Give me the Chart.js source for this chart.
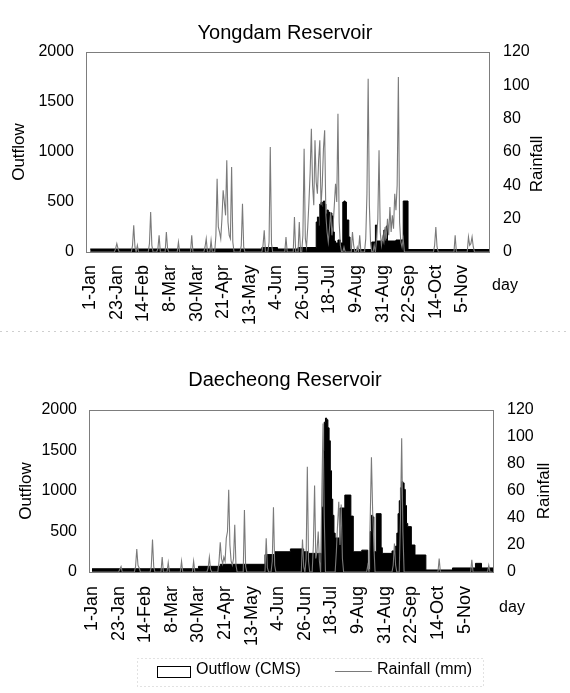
<!DOCTYPE html>
<html>
<head>
<meta charset="utf-8">
<title>Yongdam / Daecheong Reservoir - outflow and rainfall</title>
<script src="https://cdn.jsdelivr.net/npm/chart.js@4.4.1/dist/chart.umd.min.js"></script>
<style>
  html, body { margin: 0; padding: 0; background: #fff; }
  #wrap { position: relative; width: 570px; height: 693px; overflow: hidden; }
  #wrap canvas { position: absolute; left: 0; }
  #chartTop { top: 0; }
  #chartBottom { top: 340px; }
</style>
</head>
<body>
<div id="wrap">
  <canvas id="chartTop" width="570" height="340"></canvas>
  <canvas id="chartBottom" width="570" height="353"></canvas>
</div>
<script>
const FONT = "'Liberation Sans', Arial, Helvetica, sans-serif";

// x axis: a label every 22 days, day 0 = 1 Jan
const labelDays = [0, 22, 44, 66, 88, 110, 132, 154, 176, 198, 220, 242, 264, 286, 308];
const dayLabels = ['1-Jan', '23-Jan', '14-Feb', '8-Mar', '30-Mar', '21-Apr', '13-May', '4-Jun',
                   '26-Jun', '18-Jul', '9-Aug', '31-Aug', '22-Sep', '14-Oct', '5-Nov'];

// Yongdam - daily rainfall (mm), one row = 22 days
const yongRain = [
  0,0,0,0,0,0,0,0,0,0,0,0,0,0,0,0,0,0,0,0,0,2,
  5,2,0,0,0,0,0,0,0,0,0,0,0,4,16,3,0,4,0,0,0,0,
  0,0,0,0,0,5,24,4,0,0,0,0,2,10,0,0,0,0,0,12,2,0,
  0,0,0,0,0,0,0,6,0,0,0,0,0,0,0,0,0,0,10,0,0,0,
  0,0,0,0,0,0,0,3,8,0,0,0,7,0,0,0,10,44,15,12,8,20,
  37,30,22,55,18,10,8,51,6,0,0,0,0,0,0,4,29,3,0,0,0,0,
  0,0,0,0,0,0,0,0,0,0,0,4,13,0,0,0,6,63,5,0,0,0,
  0,0,0,0,0,0,0,0,9,0,0,0,0,0,0,21,0,0,0,18,0,0,
  10,62,8,3,15,30,48,74,40,28,67,42,35,55,67,28,40,62,73,22,12,6,
  14,24,10,16,28,41,30,83,18,4,0,0,3,0,0,0,0,0,0,12,4,0,
  0,3,0,10,0,0,0,0,8,35,104,28,5,0,0,4,0,8,20,61,12,4,
  9,6,15,8,20,10,27,12,22,14,35,25,40,105,18,6,3,8,0,0,0,0,
  0,0,0,0,0,0,0,0,0,0,0,0,0,0,0,0,0,0,0,0,0,4,
  15,3,0,0,0,0,0,0,0,0,0,0,0,0,0,0,10,0,0,0,0,0,
  0,0,0,0,0,9,4,5,9,3,0,0,0,0,0,0,0,0,0,0,0,0,
  0,0
];
// Yongdam - outflow (CMS): value holds from that day until the next change
const yongOutDay = [0, 142, 155, 172, 187, 188, 189, 190, 191, 192, 193, 194, 195, 196, 197, 198, 199, 200,
                    201, 202, 203, 205, 207, 209, 210, 211, 212, 214, 215, 233, 236, 237, 243, 244, 245, 246,
                    253, 259, 263, 330];
const yongOutCms = [30, 45, 30, 45, 300, 350, 260, 480, 500, 450, 510, 480, 380, 420, 400, 300, 390, 360,
                    200, 110, 90, 120, 90, 500, 510, 500, 320, 150, 25, 100, 270, 110, 220, 110, 260, 110,
                    120, 510, 25, 25];

// Daecheong - daily rainfall (mm), one row = 22 days
const daeRain = [
  0,0,0,0,0,0,0,0,0,0,0,0,0,0,0,0,0,0,0,0,0,0,
  0,2,4,0,0,0,0,0,0,0,0,0,0,0,4,17,5,3,0,0,0,0,
  0,0,0,0,0,4,24,4,0,0,0,0,0,0,11,0,0,0,0,7,0,0,
  0,0,0,0,0,0,0,0,8,0,0,0,0,0,0,0,0,0,8,0,0,0,
  0,0,0,0,0,0,0,0,3,11,2,0,0,0,0,0,0,8,22,10,6,11,
  8,25,30,61,20,8,5,10,35,5,0,0,0,0,0,0,46,4,0,0,0,0,
  0,0,0,0,0,0,0,0,0,0,0,0,25,3,0,0,0,8,48,5,0,0,
  0,0,0,0,0,0,0,0,0,0,0,0,0,0,0,0,0,0,0,0,24,4,
  0,10,78,8,0,0,0,20,64,10,15,30,8,0,60,110,40,0,0,0,0,0,
  0,0,0,0,15,35,52,20,50,10,0,0,0,0,0,0,0,0,0,0,0,0,
  0,0,0,0,0,0,0,0,5,0,40,85,45,20,0,0,0,0,0,0,0,0,
  0,0,0,0,0,0,0,5,21,5,0,0,0,40,99,30,0,0,0,0,0,0,
  0,0,0,0,0,0,0,0,0,0,0,0,0,0,0,0,0,0,0,0,0,0,
  0,10,0,0,0,0,0,0,0,0,0,0,0,0,0,0,0,0,0,0,0,0,
  0,0,0,0,0,0,9,0,0,0,0,0,0,0,0,0,0,0,0,0,5,0,
  0,0
];
// Daecheong - outflow (CMS): value holds from that day until the next change
const daeOutDay = [0, 88, 106, 143, 151, 164, 175, 179, 190, 191, 192, 193, 194, 195, 196, 197, 198, 199,
                   200, 201, 205, 209, 214, 216, 223, 228, 230, 231, 232, 233, 235, 239, 240, 248, 251, 252,
                   253, 254, 255, 256, 257, 258, 259, 260, 261, 264, 267, 276, 298, 317, 322, 332];
const daeOutCms = [40, 70, 95, 215, 250, 285, 250, 230, 800, 1500, 1850, 1900, 1880, 1780, 1620, 1250, 900, 700,
                   480, 420, 790, 950, 690, 250, 270, 30, 500, 700, 680, 250, 720, 300, 230, 260, 320, 480,
                   720, 880, 1040, 1115, 1100, 1020, 820, 600, 560, 333, 210, 25, 50, 107, 50, 50];

Chart.defaults.font.family = FONT;
Chart.defaults.color = '#000';

function drawLegend(chart, L) {
  const { ctx } = chart;
  const [outSet, rainSet] = chart.data.datasets;
  ctx.save();
  ctx.strokeStyle = '#c4c4c4';
  ctx.lineWidth = 1;
  ctx.setLineDash([1, 3]);
  ctx.strokeRect(L.frame[0] + 0.5, L.frame[1] + 0.5, L.frame[2], L.frame[3]);
  ctx.setLineDash([]);
  ctx.fillStyle = '#fff';
  ctx.fillRect(L.boxX, L.boxY, L.boxW, L.boxH);
  ctx.strokeStyle = '#000';
  ctx.strokeRect(L.boxX + 0.5, L.boxY + 0.5, L.boxW, L.boxH);
  ctx.strokeStyle = rainSet.borderColor;
  ctx.beginPath();
  ctx.moveTo(L.lineX1, L.lineY + 0.5);
  ctx.lineTo(L.lineX2, L.lineY + 0.5);
  ctx.stroke();
  ctx.fillStyle = '#000';
  ctx.font = '16px ' + FONT;
  ctx.textAlign = 'left';
  ctx.textBaseline = 'middle';
  ctx.fillText(outSet.label, L.text1X, L.textY);
  ctx.fillText(rainSet.label, L.text2X, L.textY);
  ctx.restore();
}

// frame round the plot, "day", right axis title, legend
const extras = {
  id: 'extras',
  beforeDatasetsDraw(chart) {
    const { ctx, chartArea: a } = chart;
    ctx.save();
    ctx.strokeStyle = '#7d7d7d';
    ctx.lineWidth = 1;
    ctx.strokeRect(Math.round(a.left) + 0.5, Math.round(a.top) + 0.5, Math.round(a.width), Math.round(a.height));
    ctx.restore();
  },
  afterDraw(chart, args, o) {
    const { ctx } = chart;
    ctx.save();
    if (o.sepY) {
      // faint dotted divider between the two charts
      ctx.strokeStyle = '#cfcfcf';
      ctx.setLineDash([2, 4]);
      ctx.beginPath();
      ctx.moveTo(0, o.sepY + 0.5);
      ctx.lineTo(chart.width, o.sepY + 0.5);
      ctx.stroke();
      ctx.setLineDash([]);
    }
    ctx.fillStyle = '#000';
    ctx.textAlign = 'center';
    ctx.textBaseline = 'middle';
    ctx.font = '16px ' + FONT;
    ctx.fillText('day', o.dayX, o.dayY);
    ctx.translate(o.rainX, o.rainY);
    ctx.rotate(-Math.PI / 2);
    ctx.font = '17px ' + FONT;
    ctx.fillText('Rainfall', 0, 0);
    ctx.restore();
    if (o.legend) drawLegend(chart, o.legend);
  }
};

function makeChart(id, c) {
  return new Chart(document.getElementById(id), {
    type: 'line',
    data: {
      datasets: [
        {
          label: 'Outflow (CMS)',
          data: c.outDay.map((d, i) => ({ x: d, y: c.outCms[i] })),
          yAxisID: 'y',
          stepped: true,
          fill: 'origin',
          backgroundColor: '#000',
          borderColor: '#000',
          borderWidth: 1,
          pointRadius: 0,
          order: 2
        },
        {
          label: 'Rainfall (mm)',
          data: c.rain.map((v, i) => ({ x: i, y: v })),
          yAxisID: 'y2',
          borderColor: '#7a7a7a',
          borderWidth: 1.1,
          pointRadius: 0,
          tension: 0,
          fill: false,
          order: 1
        }
      ]
    },
    options: {
      responsive: false,
      animation: false,
      devicePixelRatio: 1,
      layout: { padding: 0 },
      plugins: {
        legend: { display: false },
        tooltip: { enabled: false },
        title: {
          display: true, text: c.title, color: '#000',
          font: { size: 20, weight: 'normal' }, padding: c.titlePad
        },
        extras: c.extras
      },
      scales: {
        x: {
          type: 'linear', min: c.xMin, max: c.xMax,
          grid: { display: false, drawTicks: false },
          border: { display: false },
          afterBuildTicks: s => { s.ticks = labelDays.map(v => ({ value: v })); },
          afterFit: s => { s.height = c.xHeight; },
          ticks: {
            autoSkip: false, minRotation: 90, maxRotation: 90, padding: c.xPad,
            font: { size: 18 },
            callback: v => dayLabels[labelDays.indexOf(v)]
          }
        },
        y: {
          position: 'left', min: 0, max: 2000,
          grid: { display: false, drawTicks: false },
          border: { display: false },
          afterFit: s => { s.width = c.leftW; },
          ticks: { stepSize: 500, padding: 12, font: { size: 16 }, callback: v => String(v) },
          title: { display: true, text: 'Outflow', font: { size: 17 }, padding: { top: c.yTitlePad, bottom: 0 } }
        },
        y2: {
          position: 'right', min: 0, max: 120,
          grid: { display: false, drawTicks: false },
          border: { display: false },
          afterFit: s => { s.width = c.rightW; },
          ticks: { stepSize: 20, padding: 14, font: { size: 16 }, callback: v => String(v) }
        }
      }
    },
    plugins: [extras]
  });
}

makeChart('chartTop', {
  title: 'Yongdam Reservoir',
  titlePad: { top: 21, bottom: 7 },
  rain: yongRain, outDay: yongOutDay, outCms: yongOutCms,
  xMin: -3.5, xMax: 330, xHeight: 88, xPad: 13,
  leftW: 86, rightW: 81, yTitlePad: 9,
  extras: { dayX: 505, dayY: 286, rainX: 537, rainY: 164, sepY: 331, legend: false }
});

makeChart('chartBottom', {
  title: 'Daecheong Reservoir',
  titlePad: { top: 28, bottom: 18 },
  rain: daeRain, outDay: daeOutDay, outCms: daeOutCms,
  xMin: -2.5, xMax: 331.5, xHeight: 121, xPad: 14,
  leftW: 89, rightW: 77, yTitlePad: 16,
  extras: {
    dayX: 512, dayY: 268, rainX: 544, rainY: 151,
    legend: {
      frame: [137, 318, 346, 28],
      boxX: 157, boxY: 326, boxW: 33, boxH: 11,
      lineX1: 335, lineX2: 372, lineY: 331,
      text1X: 196, text2X: 377, textY: 330
    }
  }
});
</script>
</body>
</html>
